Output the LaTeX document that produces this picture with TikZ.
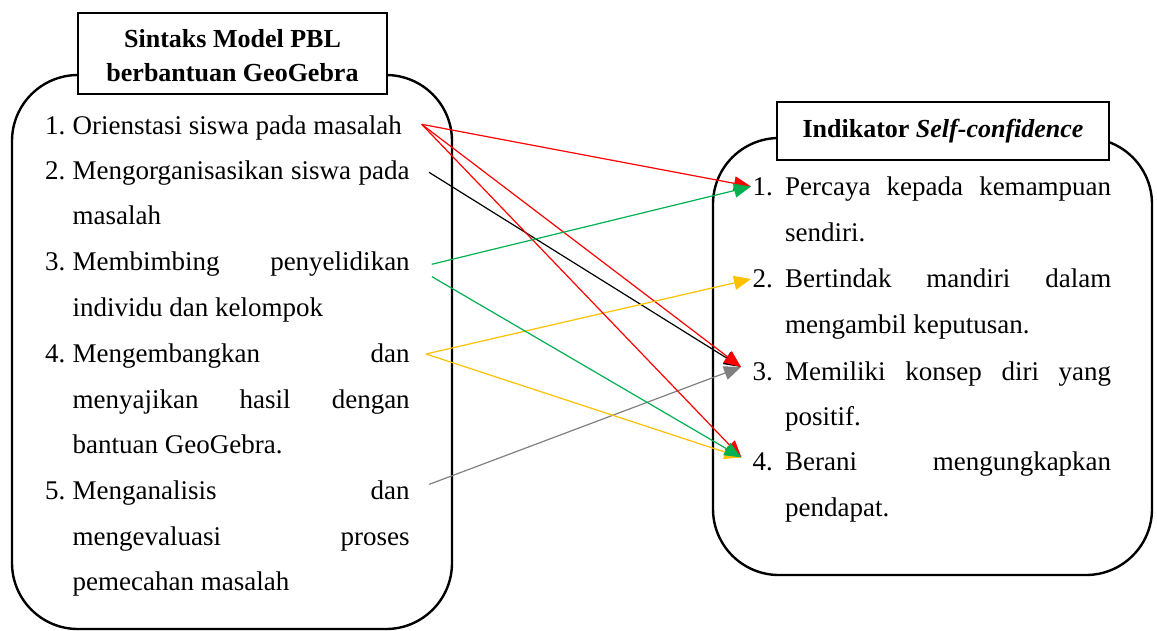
\documentclass[tikz,border=0pt]{standalone}
\usepackage{fontspec}
\setmainfont{Liberation Serif}
\usetikzlibrary{arrows.meta}
\definecolor{lnred}{RGB}{255,0,0}
\definecolor{lngreen}{RGB}{0,176,80}
\definecolor{lngold}{RGB}{255,192,0}
\definecolor{lngray}{RGB}{128,128,128}
\begin{document}
\begin{tikzpicture}[x=1pt,y=-1pt,
  panel/.style={draw, line width=2.4pt, rounded corners=66pt},
  titlebox/.style={draw, line width=1.1pt, fill=white, inner sep=0pt},
  titletext/.style={font=\fontsize{26}{30}\selectfont\bfseries, inner sep=0pt, anchor=base},
  body/.style={font=\fontsize{27}{32}\selectfont, inner sep=0pt, anchor=base west},
  link/.style={line width=1.2pt, -{Triangle[length=17pt,width=14pt]}},
]
\useasboundingbox (0,0) rectangle (1157,630);

% left panel: syntax of the PBL model
\draw[panel] (12,75) rectangle (452,629);
\node[titlebox, minimum width=309pt, minimum height=81pt] (ltbox) at (232.5,53.5) {};
\node[titletext] (lt1) at (232.5,47) {Sintaks Model PBL};
\node[titletext] (lt2) at (232.5,81) {berbantuan GeoGebra};

\node[body] (ln1) at (45,134) {1.};
\node[body] (l1a) at (72.5,134) {Orienstasi siswa pada masalah};
\node[body] (ln2) at (45,179) {2.};
\node[body] (l2a) at (72.5,179) {\makebox[337pt][s]{Mengorganisasikan siswa pada}};
\node[body] (l2b) at (72.5,224) {masalah};
\node[body] (ln3) at (45,270) {3.};
\node[body] (l3a) at (72.5,270) {\makebox[337pt][s]{Membimbing penyelidikan}};
\node[body] (l3b) at (72.5,316) {individu dan kelompok};
\node[body] (ln4) at (45,362) {4.};
\node[body] (l4a) at (72.5,362) {\makebox[337pt][s]{Mengembangkan dan}};
\node[body] (l4b) at (72.5,408) {\makebox[337pt][s]{menyajikan hasil dengan}};
\node[body] (l4c) at (72.5,453) {bantuan GeoGebra.};
\node[body] (ln5) at (45,499) {5.};
\node[body] (l5a) at (72.5,499) {\makebox[337pt][s]{Menganalisis dan}};
\node[body] (l5b) at (72.5,545) {\makebox[337pt][s]{mengevaluasi proses}};
\node[body] (l5c) at (72.5,590) {pemecahan masalah};

% right panel: self-confidence indicators
\draw[panel] (713,138) rectangle (1152,575);
\node[titlebox, minimum width=332pt, minimum height=58pt] (rtbox) at (943,131) {};
\node[titletext] (rt) at (943,137) {Indikator \textit{Self-confidence}};

\node[body] (rn1) at (752.5,195) {1.};
\node[body] (r1a) at (785,195) {\makebox[326pt][s]{Percaya kepada kemampuan}};
\node[body] (r1b) at (785,241) {sendiri.};
\node[body] (rn2) at (752.5,287) {2.};
\node[body] (r2a) at (785,287) {\makebox[326pt][s]{Bertindak mandiri dalam}};
\node[body] (r2b) at (785,333) {mengambil keputusan.};
\node[body] (rn3) at (752.5,380) {3.};
\node[body] (r3a) at (785,380) {\makebox[326pt][s]{Memiliki konsep diri yang}};
\node[body] (r3b) at (785,425) {positif.};
\node[body] (rn4) at (752.5,470) {4.};
\node[body] (r4a) at (785,470) {\makebox[326pt][s]{Berani mengungkapkan}};
\node[body] (r4b) at (785,516) {pendapat.};

% connector end points
\coordinate (s1) at (421.7,124.3);
\coordinate (s2) at (429,172.3);
\coordinate (s3a) at (431.7,264.3);
\coordinate (s3b) at (432,276.7);
\coordinate (s4) at (426,354);
\coordinate (s5) at (429.3,484.3);
\coordinate (t1) at (751,186.5);
\coordinate (t2) at (751,279);
\coordinate (t3) at (741,367);
\coordinate (t4) at (741.5,457.5);

% connectors
\draw[link, lnred] (s1) -- (t1);
\draw[link, black] (s2) -- (t3);
\draw[link, lnred] (s1) -- (t3);
\draw[link, lngray] (s5) -- (t3);
\draw[link, lngold] (s4) -- (t2);
\draw[link, lngold] (s4) -- (t4);
\draw[link, lnred] (s1) -- (t4);
\draw[link, lngreen] (s3b) -- (t4);
\draw[link, lngreen] (s3a) -- (t1);
\end{tikzpicture}
\end{document}
